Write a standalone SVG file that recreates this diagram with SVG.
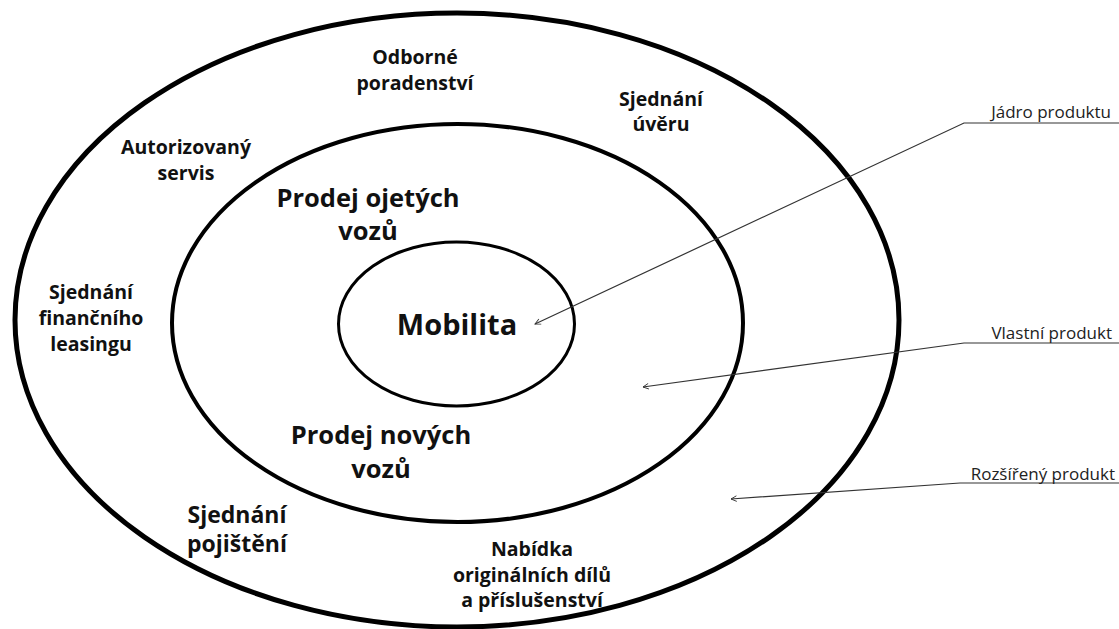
<svg xmlns="http://www.w3.org/2000/svg" width="1119" height="629" viewBox="0 0 1119 629">
<style>
.ring{fill:none;stroke:#000}
.lbl{font-family:"Open Sans","Noto Sans","Liberation Sans",sans-serif;font-weight:700;fill:#111;text-anchor:middle}
.s18{font-size:19.5px}
.s21{font-size:23px}
.s23{font-size:25.5px}
.s28{font-size:29px}
.call{font-family:"Open Sans","Noto Sans","Liberation Sans",sans-serif;font-size:17px;fill:#222;text-anchor:end}
.lead{fill:none;stroke:#333;stroke-width:1.2}
</style>
<defs>
<marker id="ah" viewBox="0 0 10 10" refX="9" refY="5" markerWidth="7" markerHeight="7" orient="auto" markerUnits="userSpaceOnUse">
<path d="M1,1 L9,5 L1,9" fill="none" stroke="#333" stroke-width="1.3"/>
</marker>
</defs>
<rect width="1119" height="629" fill="#fff"/>
<g id="rozsireny">
<ellipse class="ring" cx="457" cy="320" rx="442" ry="307" stroke-width="5"/>
<text class="lbl s18" x="415" y="64">Odborné</text>
<text class="lbl s18" x="415" y="90">poradenství</text>
<text class="lbl s18" x="661" y="106">Sjednání</text>
<text class="lbl s18" x="661" y="131">úvěru</text>
<text class="lbl s18" x="186" y="154">Autorizovaný</text>
<text class="lbl s18" x="186" y="180">servis</text>
<text class="lbl s18" x="91" y="299">Sjednání</text>
<text class="lbl s18" x="91" y="325">finančního</text>
<text class="lbl s18" x="91" y="351">leasingu</text>
<text class="lbl s21" x="237" y="523">Sjednání</text>
<text class="lbl s21" x="237" y="552">pojištění</text>
<text class="lbl s18" x="532" y="556">Nabídka</text>
<text class="lbl s18" x="532" y="582">originálních dílů</text>
<text class="lbl s18" x="532" y="607">a příslušenství</text>
</g>
<g id="vlastni">
<ellipse class="ring" cx="457.5" cy="323" rx="285.5" ry="199" stroke-width="4"/>
<text class="lbl s23" x="368" y="207">Prodej ojetých</text>
<text class="lbl s23" x="368" y="240">vozů</text>
<text class="lbl s23" x="381" y="444">Prodej nových</text>
<text class="lbl s23" x="381" y="478">vozů</text>
</g>
<g id="jadro">
<ellipse class="ring" cx="456.5" cy="324" rx="118" ry="82" stroke-width="3"/>
<text class="lbl s28" x="457" y="335">Mobilita</text>
</g>
<g id="connectors">
<path class="lead" d="M1119,123 L964,123 L535,324" marker-end="url(#ah)"/>
<path class="lead" d="M1119,343 L964,343 L643,387" marker-end="url(#ah)"/>
<path class="lead" d="M1119,483 L960,483 L731,499" marker-end="url(#ah)"/>
</g>
<g id="callouts">
<text class="call" x="1111" y="118">Jádro produktu</text>
<text class="call" x="1112" y="339">Vlastní produkt</text>
<text class="call" x="1115" y="480">Rozšířený produkt</text>
</g>
</svg>
